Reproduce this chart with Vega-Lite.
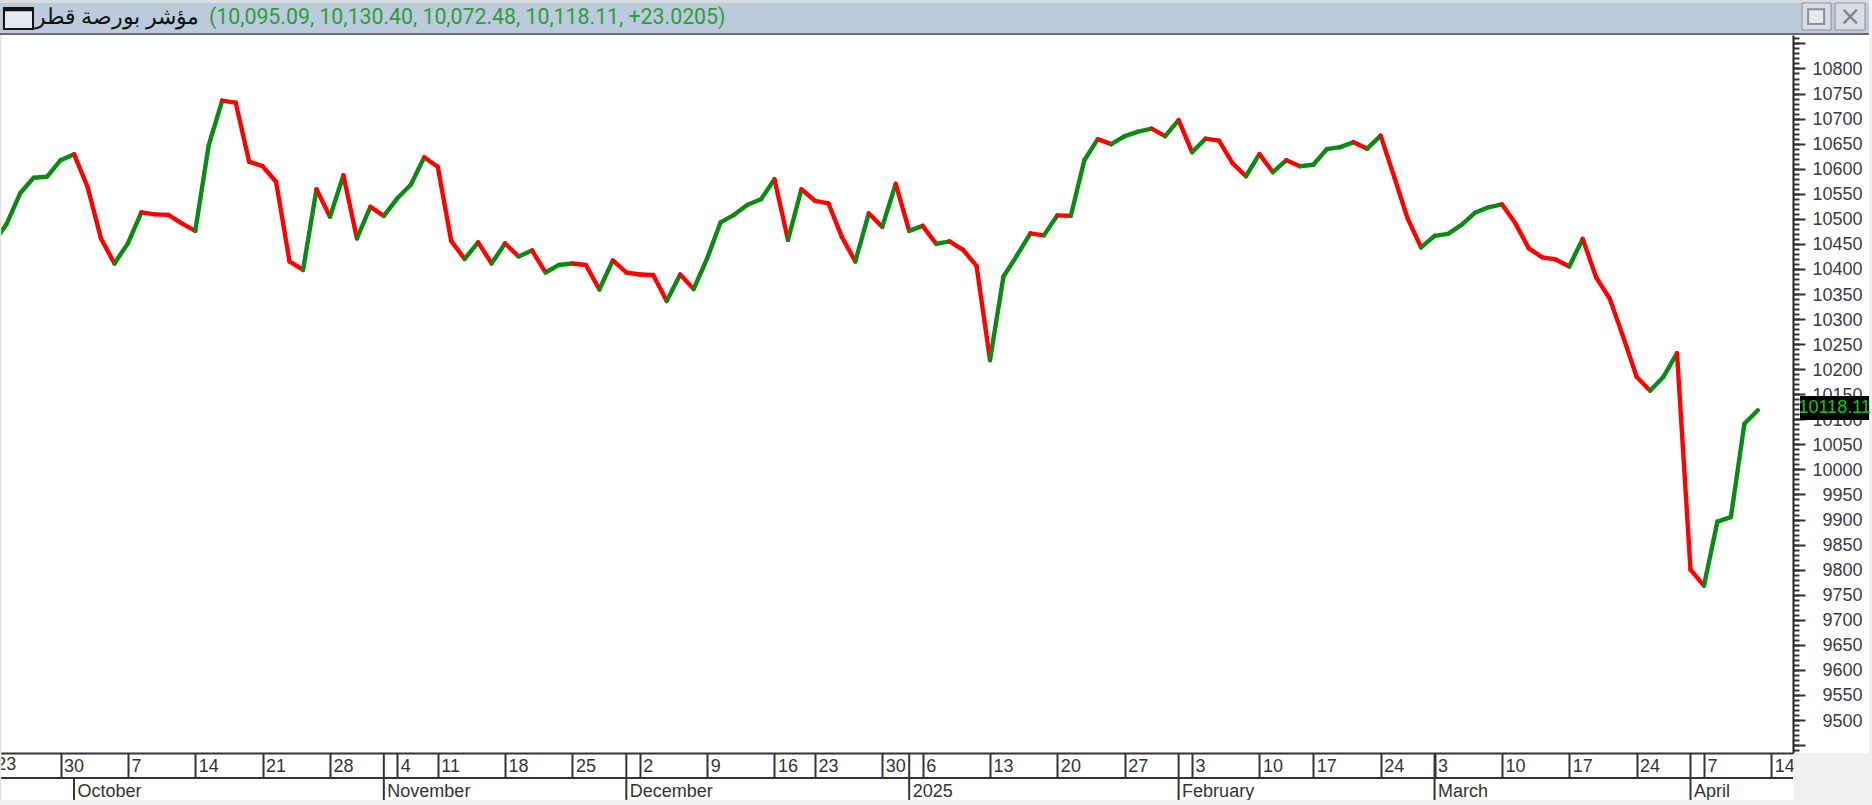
{"$schema":"https://vega.github.io/schema/vega-lite/v6.json","width":1793,"height":718,"autosize":{"type":"none"},"padding":{"left":0,"top":35,"right":79,"bottom":52},"background":"white","view":{"stroke":null},
"datasets":{"one":[{}],
"close":[{"i":0,"close":10450},{"i":1,"close":10490},{"i":2,"close":10551},{"i":3,"close":10582},{"i":4,"close":10584},{"i":5,"close":10617},{"i":6,"close":10629},{"i":7,"close":10564},{"i":8,"close":10461},{"i":9,"close":10411},{"i":10,"close":10451},{"i":11,"close":10513},{"i":12,"close":10509},{"i":13,"close":10508},{"i":14,"close":10491},{"i":15,"close":10476},{"i":16,"close":10647},{"i":17,"close":10736},{"i":18,"close":10732},{"i":19,"close":10614},{"i":20,"close":10605},{"i":21,"close":10574},{"i":22,"close":10415},{"i":23,"close":10398},{"i":24,"close":10559},{"i":25,"close":10504},{"i":26,"close":10587},{"i":27,"close":10461},{"i":28,"close":10524},{"i":29,"close":10506},{"i":30,"close":10541},{"i":31,"close":10568},{"i":32,"close":10623},{"i":33,"close":10604},{"i":34,"close":10456},{"i":35,"close":10420},{"i":36,"close":10453},{"i":37,"close":10411},{"i":38,"close":10451},{"i":39,"close":10425},{"i":40,"close":10437},{"i":41,"close":10393},{"i":42,"close":10408},{"i":43,"close":10411},{"i":44,"close":10408},{"i":45,"close":10359},{"i":46,"close":10417},{"i":47,"close":10393},{"i":48,"close":10389},{"i":49,"close":10388},{"i":50,"close":10336},{"i":51,"close":10389},{"i":52,"close":10360},{"i":53,"close":10421},{"i":54,"close":10493},{"i":55,"close":10508},{"i":56,"close":10528},{"i":57,"close":10539},{"i":58,"close":10579},{"i":59,"close":10458},{"i":60,"close":10559},{"i":61,"close":10536},{"i":62,"close":10531},{"i":63,"close":10464},{"i":64,"close":10415},{"i":65,"close":10511},{"i":66,"close":10484},{"i":67,"close":10570},{"i":68,"close":10476},{"i":69,"close":10486},{"i":70,"close":10450},{"i":71,"close":10455},{"i":72,"close":10438},{"i":73,"close":10406},{"i":74,"close":10218},{"i":75,"close":10385},{"i":76,"close":10427},{"i":77,"close":10471},{"i":78,"close":10467},{"i":79,"close":10507},{"i":80,"close":10506},{"i":81,"close":10617},{"i":82,"close":10659},{"i":83,"close":10649},{"i":84,"close":10665},{"i":85,"close":10674},{"i":86,"close":10680},{"i":87,"close":10665},{"i":88,"close":10697},{"i":89,"close":10633},{"i":90,"close":10660},{"i":91,"close":10656},{"i":92,"close":10611},{"i":93,"close":10585},{"i":94,"close":10629},{"i":95,"close":10593},{"i":96,"close":10617},{"i":97,"close":10605},{"i":98,"close":10608},{"i":99,"close":10639},{"i":100,"close":10643},{"i":101,"close":10653},{"i":102,"close":10640},{"i":103,"close":10666},{"i":104,"close":10584},{"i":105,"close":10501},{"i":106,"close":10443},{"i":107,"close":10466},{"i":108,"close":10470},{"i":109,"close":10488},{"i":110,"close":10512},{"i":111,"close":10523},{"i":112,"close":10529},{"i":113,"close":10491},{"i":114,"close":10441},{"i":115,"close":10423},{"i":116,"close":10419},{"i":117,"close":10405},{"i":118,"close":10460},{"i":119,"close":10383},{"i":120,"close":10341},{"i":121,"close":10265},{"i":122,"close":10185},{"i":123,"close":10157},{"i":124,"close":10185},{"i":125,"close":10232},{"i":126,"close":9800},{"i":127,"close":9768},{"i":128,"close":9896},{"i":129,"close":9905},{"i":130,"close":10091},{"i":131,"close":10118.11}],
"months":[{"i":6,"month":"October"},{"i":29,"month":"November"},{"i":47,"month":"December"},{"i":68,"month":"2025"},{"i":88,"month":"February"},{"i":107,"month":"March"},{"i":126,"month":"April"}]},
"layer":[
{"data":{"name":"close"},"transform":[{"window":[{"op":"lag","field":"i","as":"prev_i"},{"op":"lag","field":"close","as":"prev_close"}],"sort":[{"field":"i","order":"ascending"}]},{"filter":"datum.prev_i != null"}],
"mark":{"type":"rule","strokeWidth":4.4,"strokeCap":"round","clip":true},
"encoding":{
"x":{"field":"i","type":"quantitative","scale":{"domain":[0.505,133.61],"nice":false,"zero":false},
"axis":{"orient":"bottom","title":null,"grid":false,"values":[0,5,10,15,20,25,30,33,38,43,48,53,58,61,66,69,74,79,84,89,94,98,103,107,112,117,122,127,132],
"labelExpr":"{'0':'23','5':'30','10':'7','15':'14','20':'21','25':'28','30':'4','33':'11','38':'18','43':'25','48':'2','53':'9','58':'16','61':'23','66':'30','69':'6','74':'13','79':'20','84':'27','89':'3','94':'10','98':'17','103':'24','107':'3','112':'10','117':'17','122':'24','127':'7','132':'14'}[datum.value+'']",
"tickSize":25,"tickWidth":2,"tickColor":"#333333","domainColor":"#333333","domainWidth":2,"labelAlign":"left","labelBaseline":"top","labelOffset":3,"labelPadding":-21,"labelFont":"Liberation Sans","labelFontSize":18,"labelColor":"#333333","labelFlush":false,"labelBound":false,"labelOverlap":false,"labelAngle":0}},
"x2":{"field":"prev_i"},
"y":{"field":"close","type":"quantitative","scale":{"domain":[9434.2,10866.8],"nice":false,"zero":false},
"axis":{"orient":"right","title":null,"grid":false,
"values":[9450,9500,9550,9600,9650,9700,9750,9800,9850,9900,9950,10000,10050,10100,10150,10200,10250,10300,10350,10400,10450,10500,10550,10600,10650,10700,10750,10800,10850],
"labelExpr":"(datum.value>=9500 && datum.value<=10800) ? format(datum.value,'d') : ''",
"tickSize":12,"tickWidth":2,"tickColor":"#333333","domainColor":"#222222","domainWidth":2,"labelAlign":"right","labelBaseline":"middle","labelOffset":1,"labelPadding":57,"labelFont":"Liberation Sans","labelFontSize":18,"labelColor":"#3a3a44","labelFlush":false,"labelBound":false,"labelOverlap":false}},
"y2":{"field":"prev_close"},
"color":{"condition":{"test":"datum.close>=datum.prev_close","value":"#0a8a12"},"value":"#ff0000"}}},
{"data":{"name":"months"},"mark":{"type":"rule","strokeWidth":2,"color":"#333333"},
"encoding":{
"x":{"field":"i","type":"quantitative","axis":{"orient":"bottom","title":null,"grid":false,"domain":false,"values":[6,29,47,68,88,107,126],
"labelExpr":"{'6':'October','29':'November','47':'December','68':'2025','88':'February','107':'March','126':'April'}[datum.value+'']",
"tickSize":47,"tickOpacity":0,"labelAlign":"left","labelBaseline":"top","labelOffset":3,"labelPadding":-18,"labelFont":"Liberation Sans","labelFontSize":18,"labelColor":"#333333","labelFlush":false,"labelBound":false,"labelOverlap":false,"labelAngle":0}},
"y":{"datum":9384.4,"axis":null},"y2":{"datum":9340.5}}},
{"data":{"name":"months"},"transform":[{"filter":"datum.month !== 'October'"}],"mark":{"type":"rule","strokeWidth":2,"color":"#333333"},
"encoding":{"x":{"field":"i","type":"quantitative","axis":null},"y":{"datum":9434.2,"axis":null},"y2":{"datum":9384.4}}},
{"data":{"name":"one"},"mark":{"type":"rule","strokeWidth":2,"color":"#333333"},"encoding":{"x":{"datum":0.505,"axis":null},"x2":{"datum":133.61},
"y":{"datum":9384.4,"axis":{"orient":"right","title":null,"grid":false,"labels":false,"domain":false,"tickSize":6,"tickWidth":2,"tickColor":"#333333",
"values":[9440,9450,9460,9470,9480,9490,9500,9510,9520,9530,9540,9550,9560,9570,9580,9590,9600,9610,9620,9630,9640,9650,9660,9670,9680,9690,9700,9710,9720,9730,9740,9750,9760,9770,9780,9790,9800,9810,9820,9830,9840,9850,9860,9870,9880,9890,9900,9910,9920,9930,9940,9950,9960,9970,9980,9990,10000,10010,10020,10030,10040,10050,10060,10070,10080,10090,10100,10110,10120,10130,10140,10150,10160,10170,10180,10190,10200,10210,10220,10230,10240,10250,10260,10270,10280,10290,10300,10310,10320,10330,10340,10350,10360,10370,10380,10390,10400,10410,10420,10430,10440,10450,10460,10470,10480,10490,10500,10510,10520,10530,10540,10550,10560,10570,10580,10590,10600,10610,10620,10630,10640,10650,10660,10670,10680,10690,10700,10710,10720,10730,10740,10750,10760,10770,10780,10790,10800,10810,10820,10830,10840,10850,10860]}}}},
{"data":{"name":"one"},"mark":{"type":"text","text":"23","align":"left","baseline":"middle","dx":3,"font":"Liberation Sans","fontSize":18,"color":"#333333"},"encoding":{"x":{"datum":0,"axis":null},"y":{"datum":9410,"axis":null}}},
{"data":{"name":"one"},"mark":{"type":"rect","color":"#f0f0f0"},"encoding":{"x":{"datum":0.505,"axis":null},"x2":{"datum":139.48},"y":{"datum":9340.5,"axis":null},"y2":{"datum":9330.5}}},
{"data":{"name":"one"},"mark":{"type":"rect","color":"#f0f0f0"},"encoding":{"x":{"datum":133.66,"axis":null},"x2":{"datum":139.48},"y":{"datum":9434.2,"axis":null},"y2":{"datum":9330.5}}},
{"data":{"name":"one"},"mark":{"type":"rect","color":"#f0f0f0"},"encoding":{"x":{"datum":139.26,"axis":null},"x2":{"datum":139.48},"y":{"datum":10937,"axis":null},"y2":{"datum":9330.5}}},
{"data":{"name":"one"},"mark":{"type":"rect","color":"#e2e2e2"},"encoding":{"x":{"datum":0.505,"axis":null},"x2":{"datum":0.6},"y":{"datum":10866.8,"axis":null},"y2":{"datum":9340.5}}},
{"data":{"name":"one"},"mark":{"type":"rect","color":"#d9dde2"},"encoding":{"x":{"datum":0.505,"axis":null},"x2":{"datum":139.26},"y":{"datum":10937,"axis":null},"y2":{"datum":10930.7}}},
{"data":{"name":"one"},"mark":{"type":"rect","color":"#bccbdb"},"encoding":{"x":{"datum":0.505,"axis":null},"x2":{"datum":139.26},"y":{"datum":10930.7,"axis":null},"y2":{"datum":10870.8}}},
{"data":{"name":"one"},"mark":{"type":"rect","color":"#6e6e6e"},"encoding":{"x":{"datum":0.505,"axis":null},"x2":{"datum":139.26},"y":{"datum":10870.8,"axis":null},"y2":{"datum":10866.8}}},
{"data":{"name":"one"},"mark":{"type":"text","text":"مؤشر بورصة قطر","align":"right","baseline":"middle","font":"Noto Sans","fontSize":21.5,"color":"#111111"},"encoding":{"x":{"datum":15.28,"axis":null},"y":{"datum":10900.8,"axis":null}}},
{"data":{"name":"one"},"mark":{"type":"rect","fill":"white","fillOpacity":0.6,"stroke":"#111111","strokeWidth":2},"encoding":{"x":{"datum":0.8,"axis":null},"x2":{"datum":2.955},"y":{"datum":10920.7,"axis":null},"y2":{"datum":10878.8}}},
{"data":{"name":"one"},"mark":{"type":"rect","color":"#111111"},"encoding":{"x":{"datum":0.8,"axis":null},"x2":{"datum":2.955},"y":{"datum":10920.7,"axis":null},"y2":{"datum":10914}}},
{"data":{"name":"one"},"mark":{"type":"text","text":"(10,095.09, 10,130.40, 10,072.48, 10,118.11, +23.0205)","align":"left","baseline":"middle","font":"Roboto","fontSize":21.3,"color":"#2e9c3a"},"encoding":{"x":{"datum":16.02,"axis":null},"y":{"datum":10900.8,"axis":null}}},
{"data":{"name":"one"},"mark":{"type":"rect","fill":"#d6dde5","stroke":"#8a8f96","strokeWidth":1},"encoding":{"x":{"datum":134.28,"axis":null},"x2":{"datum":136.44},"y":{"datum":10930.7,"axis":null},"y2":{"datum":10876.8}}},
{"data":{"name":"one"},"mark":{"type":"rect","fill":"#e6e9ec","stroke":"#8a8f96","strokeWidth":2},"encoding":{"x":{"datum":134.73,"axis":null},"x2":{"datum":135.92},"y":{"datum":10918,"axis":null},"y2":{"datum":10888.8}}},
{"data":{"name":"one"},"mark":{"type":"rect","fill":"#d6dde5","stroke":"#8a8f96","strokeWidth":1},"encoding":{"x":{"datum":136.73,"axis":null},"x2":{"datum":138.96},"y":{"datum":10930.7,"axis":null},"y2":{"datum":10876.8}}},
{"data":{"name":"one"},"mark":{"type":"text","text":"×","align":"center","baseline":"middle","font":"DejaVu Sans","fontSize":26,"color":"#7c8086"},"encoding":{"x":{"datum":137.85,"axis":null},"y":{"datum":10902.7,"axis":null}}},
{"data":{"name":"one"},"mark":{"type":"rect","color":"#000000"},"encoding":{"x":{"datum":134.13,"axis":null},"x2":{"datum":139.26},"y":{"datum":10146.6,"axis":null},"y2":{"datum":10098.7}}},
{"data":{"name":"one"},"mark":{"type":"text","text":"10118.11","align":"center","baseline":"middle","font":"Liberation Sans","fontSize":18,"color":"#12c712"},"encoding":{"x":{"datum":136.7,"axis":null},"y":{"datum":10122.6,"axis":null}}}
],
"resolve":{"axis":{"x":"independent","y":"independent"}}}
